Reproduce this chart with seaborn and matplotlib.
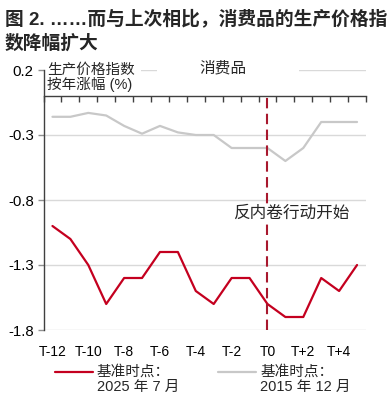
import numpy as np
import pandas as pd
import matplotlib
matplotlib.use("Agg")
import matplotlib.pyplot as plt
import matplotlib.transforms as mtransforms
from matplotlib.patches import Rectangle
from matplotlib.lines import Line2D
from matplotlib.ticker import FixedLocator
import seaborn as sns

# ---------------- data ----------------
periods = ["T-12", "T-11", "T-10", "T-9", "T-8", "T-7", "T-6", "T-5", "T-4",
           "T-3", "T-2", "T-1", "T0", "T+1", "T+2", "T+3", "T+4", "T+5"]
series_2025 = [-1.0, -1.1, -1.3, -1.6, -1.4, -1.4, -1.2, -1.2, -1.5,
               -1.6, -1.4, -1.4, -1.6, -1.7, -1.7, -1.4, -1.5, -1.3]
series_2015 = [-0.16, -0.16, -0.13, -0.15, -0.23, -0.29, -0.23, -0.28, -0.30,
               -0.30, -0.40, -0.40, -0.40, -0.50, -0.40, -0.20, -0.20, -0.20]
label_2025 = "基准时点：\n2025 年 7 月"
label_2015 = "基准时点：\n2015 年 12 月"
yticks = [0.2, -0.3, -0.8, -1.3, -1.8]
xtick_labels = ["T-12", "T-10", "T-8", "T-6", "T-4", "T-2", "T0", "T+2", "T+4"]
event_period = "T0"
event_label = "反内卷行动开始"
title_lines = ["图 2. ……而与上次相比，消费品的生产价格指", "数降幅扩大"]
ylabel_text = "生产价格指数\n按年涨幅 (%)"
panel_title = "消费品"

RED = "#C4001F"
GREY = "#C8C8C8"
DASH = "#A8182E"

# ---------------- style ----------------
sns.set_theme(style="white")
plt.rcParams["font.family"] = ["Liberation Sans", "Noto Sans CJK SC", "DejaVu Sans"]
plt.rcParams["axes.unicode_minus"] = False

pos = np.arange(len(periods))
df = pd.DataFrame({
    "pos": np.concatenate([pos, pos]),
    "value": series_2015 + series_2025,
    "series": [label_2015] * len(periods) + [label_2025] * len(periods),
})

fig = plt.figure(figsize=(3.88, 4.0), dpi=100)
ax = fig.add_axes([43.5 / 388, 1 - 330 / 400, 322.5 / 388, 260 / 400])

sns.lineplot(data=df, x="pos", y="value", hue="series",
             hue_order=[label_2015, label_2025],
             palette={label_2015: GREY, label_2025: RED},
             linewidth=1.6, ax=ax, legend=False, zorder=3)

ax.set_xlim(-0.5, len(periods) - 0.5)
ax.set_ylim(yticks[-1], yticks[0])
ax.set_yticks(yticks)
ax.set_yticklabels([f"{v:.1f}" for v in yticks])
ax.set_xlabel("")
ax.set_ylabel("")

# x tick labels at bottom, tick marks on zero line (top spine moved to 0)
ax.set_xticks([periods.index(p) for p in xtick_labels])
ax.set_xticklabels(xtick_labels)
ax.xaxis.set_minor_locator(FixedLocator(np.arange(-0.5, len(periods), 1.0)))
ax.tick_params(axis="x", which="major", bottom=True, top=False, length=0,
               labelsize=10, pad=11, labelcolor="black")
ax.tick_params(axis="x", which="minor", bottom=False, top=True, direction="in",
               length=4, width=1, color="#404040")
ax.tick_params(axis="y", which="major", left=True, length=4, width=1,
               color="#909090", labelsize=10.8, pad=3, labelcolor="black")

for s in ["right", "bottom"]:
    ax.spines[s].set_visible(False)
ax.spines["top"].set_position(("data", 0))
ax.spines["top"].set_color("#404040")
ax.spines["top"].set_linewidth(1)
ax.spines["left"].set_color("#404040")
ax.spines["left"].set_linewidth(1)

ax.grid(axis="y", color="#D9D9D9", linewidth=1)
ax.grid(axis="x", visible=False)
ax.set_axisbelow(True)

# event line
ev = periods.index(event_period)
ax.vlines(ev, yticks[-1], 0, colors=DASH, linewidth=1.5,
          linestyles=(0, (5, 2.6)), zorder=4)
ax.text(ev + 1.35, -0.903, event_label, ha="center", va="center", fontsize=12,
        zorder=5, bbox=dict(facecolor="white", edgecolor="none", pad=1))

# white covers behind header texts
trans = mtransforms.blended_transform_factory(ax.transAxes, ax.transData)
for x0, x1 in [(0.0, 0.302), (0.352, 0.792)]:
    ax.add_patch(Rectangle((x0, 0.16), x1 - x0, 0.08, transform=trans,
                           facecolor="white", edgecolor="none", zorder=2,
                           clip_on=False))
ax.text(0.01, 0.145, ylabel_text, transform=trans, ha="left", va="center",
        fontsize=10.5, linespacing=1.0, zorder=6)
ax.text(0.557, 0.213, panel_title, transform=trans, ha="center", va="center",
        fontsize=11.3, zorder=6)

# legend
handles = [Line2D([], [], color=RED, linewidth=1.6),
           Line2D([], [], color=GREY, linewidth=1.6)]
leg = fig.legend(handles, [label_2025, label_2015], loc="upper left",
                 bbox_to_anchor=(55 / 388, 1 - 365 / 400), ncol=2, frameon=False,
                 fontsize=10.5, handlelength=2.6, handletextpad=0.28,
                 columnspacing=2.65, borderpad=0, borderaxespad=0)
for t in leg.get_texts():
    t.set_linespacing(1.12)
for l in leg.get_lines():
    l.set_ydata(np.asarray(l.get_ydata()) + 5.8)

# title
fig.text(5 / 388, 1 - 19 / 400, title_lines[0], fontsize=13.5, fontweight="bold",
         ha="left", va="center")
fig.text(5 / 388, 1 - 44 / 400, title_lines[1], fontsize=13.5, fontweight="bold",
         ha="left", va="center")

fig.savefig("out.png", dpi=100)
